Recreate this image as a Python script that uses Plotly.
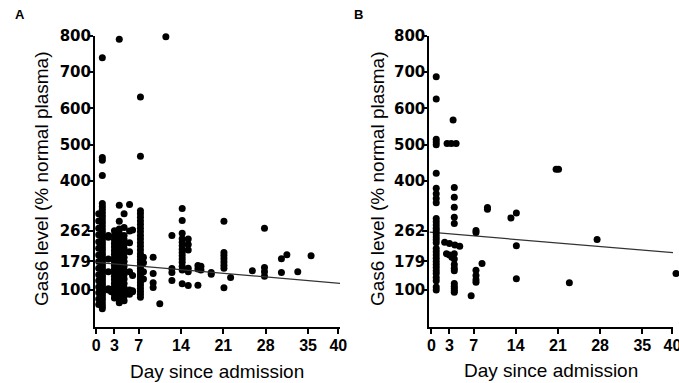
import plotly.graph_objects as go

# ---------------- Panel A data ----------------
days_a = (
    [1]*48 + [0.4]*15 + [2]*6 + [2.5]*2 + [3]*19 + [3.8]*22 + [4.6]*18 + [5.5]*8 + [6]*4
    + [7.3]*30 + [7.8]*4 + [9.4]*4 + [10.5] + [11.5] + [12.5]*4 + [14.2]*14 + [15.2]*6
    + [16.8]*3 + [17.3]*2 + [19]*2 + [21.1]*8 + [22.2] + [25.8] + [27.8]*4 + [30.6]*2
    + [31.5] + [33.3] + [35.5]
)
gas6_a = (
    [48, 55, 62, 70, 77, 84, 90, 96, 100, 104, 110, 116, 122, 128, 134, 140, 146, 152, 158, 164,
     170, 176, 182, 188, 194, 200, 207, 214, 221, 228, 235, 242, 250, 258, 266, 274, 282, 290,
     298, 306, 314, 322, 330, 338, 415, 457, 465, 739]
    + [60, 75, 92, 108, 125, 142, 160, 178, 196, 215, 233, 252, 270, 290, 310]
    + [100, 103, 150, 185, 245, 250]
    + [95, 101]
    + [78, 88, 98, 108, 118, 128, 138, 148, 158, 168, 178, 188, 198, 208, 218, 228, 238, 250, 263]
    + [65, 72, 80, 90, 100, 112, 124, 136, 148, 160, 172, 184, 196, 208, 220, 232, 244, 256, 268,
       289, 333, 790]
    + [70, 82, 94, 106, 118, 130, 142, 154, 166, 178, 190, 202, 214, 226, 238, 250, 272, 310]
    + [88, 95, 100, 150, 205, 230, 262, 335]
    + [95, 98, 140, 265]
    + [80, 88, 96, 104, 112, 120, 128, 136, 144, 152, 160, 168, 176, 184, 192, 200, 210, 220, 230,
       240, 250, 260, 270, 280, 290, 300, 310, 318, 468, 631]
    + [130, 150, 175, 190]
    + [190, 145, 120, 107]
    + [62]
    + [797]
    + [250, 159, 148, 126]
    + [324, 291, 256, 241, 231, 222, 212, 203, 194, 185, 176, 165, 155, 117]
    + [240, 225, 210, 160, 150, 112]
    + [167, 158, 113]
    + [165, 155]
    + [148, 143]
    + [289, 203, 195, 186, 177, 168, 160, 106]
    + [134]
    + [153]
    + [270, 162, 150, 138]
    + [186, 148]
    + [197]
    + [150]
    + [194]
)
line_a_days = [0, 40.3]
line_a_vals = [176, 118]

# ---------------- Panel B data ----------------
days_b = (
    [0.8]*32 + [2.6, 3.3, 4.1] + [3.6] + [3.8]*15 + [2.2, 3.0, 3.9, 4.7] + [2.5, 3.0, 3.4]
    + [6.6] + [7.4]*6 + [8.4] + [9.3]*2 + [13.2] + [14.1]*3 + [20.7, 21.1] + [22.9] + [27.5] + [40.6]
)
gas6_b = (
    [687, 626, 515, 507, 500, 421, 380, 365, 352, 340, 297, 288, 279, 270, 262, 254, 246, 238,
     230, 214, 205, 196, 187, 178, 170, 162, 153, 145, 134, 125, 108, 100]
    + [503, 503, 503]
    + [568]
    + [382, 355, 328, 300, 283, 200, 185, 170, 160, 153, 118, 110, 104, 98, 94]
    + [231, 228, 224, 220]
    + [200, 196, 190]
    + [84]
    + [264, 258, 154, 140, 128, 121]
    + [173]
    + [327, 322]
    + [298]
    + [312, 222, 131]
    + [432, 432]
    + [120]
    + [239]
    + [145]
)
line_b_days = [-0.3, 40.6]
line_b_vals = [259, 202]

x_ticks = [0, 3, 7, 14, 21, 28, 35, 40]
y_ticks = [100, 179, 262, 400, 500, 600, 700, 800]

W, H = 679, 383
# pixel geometry of the panels
ax_a = (95.0, 340.0)
ax_b = (429.3, 673.0)
xr_a = [-0.21, 40.28]
xr_b = [-0.35, 40.1]
# a hidden x axis for panel B with identical scale that reaches the right page edge
scale_b = (ax_b[1] - ax_b[0]) / (xr_b[1] - xr_b[0])
xr_b_wide = [xr_b[0], xr_b[0] + (W - ax_b[0]) / scale_b]

fig = go.Figure()

marker = dict(color="black", size=7, line=dict(width=0))
fig.add_trace(go.Scatter(x=days_a, y=gas6_a, mode="markers", marker=marker,
                         xaxis="x", yaxis="y", cliponaxis=False, showlegend=False))
fig.add_trace(go.Scatter(x=line_a_days, y=line_a_vals, mode="lines",
                         line=dict(color="#333333", width=1.2),
                         xaxis="x", yaxis="y", cliponaxis=False, showlegend=False))
fig.add_trace(go.Scatter(x=line_b_days, y=line_b_vals, mode="lines",
                         line=dict(color="#333333", width=1.2),
                         xaxis="x2", yaxis="y2", cliponaxis=False, showlegend=False))
fig.add_trace(go.Scatter(x=days_b, y=gas6_b, mode="markers", marker=marker,
                         xaxis="x3", yaxis="y2", cliponaxis=False, showlegend=False))

xtickfont = dict(family="Liberation Sans, Arial", size=16, color="black", weight="bold")
ytickfont = dict(family="DejaVu Sans", size=15, color="black", weight="bold")
common_x = dict(tickvals=x_ticks, ticktext=[str(t) for t in x_ticks], showline=True,
                linecolor="black", linewidth=2, ticks="outside", ticklen=5, tickwidth=2,
                tickcolor="black", showgrid=False, zeroline=False, tickfont=xtickfont,
                automargin=False, ticklabeloverflow="allow", ticklabelstandoff=-2)
common_y = dict(tickvals=y_ticks, ticktext=[str(t) for t in y_ticks], showline=True,
                linecolor="black", linewidth=2, ticks="outside", ticklen=5, tickwidth=2,
                tickcolor="black", showgrid=False, zeroline=False, tickfont=ytickfont,
                range=[-2, 800], automargin=False, ticklabeloverflow="allow",
                ticklabelstandoff=-6)

ydom = [1 - 327/H, 1 - 35.7/H]
fig.update_layout(
    template="none",
    width=W, height=H, margin=dict(l=0, r=0, t=0, b=0, pad=0),
    paper_bgcolor="white", plot_bgcolor="rgba(0,0,0,0)",
    xaxis=dict(domain=[ax_a[0]/W, ax_a[1]/W], range=xr_a, anchor="y", **common_x),
    yaxis=dict(domain=ydom, anchor="x", **common_y),
    xaxis2=dict(domain=[ax_b[0]/W, ax_b[1]/W], range=xr_b, anchor="y2", **common_x),
    yaxis2=dict(domain=ydom, anchor="x2", **common_y),
    xaxis3=dict(domain=[ax_b[0]/W, 1.0], range=xr_b_wide, anchor="y2",
                visible=False, showgrid=False, zeroline=False, automargin=False),
    hovermode=False,
)

title_font = dict(family="Liberation Sans, Arial", size=19, color="black")
ann = [
    dict(text="A", x=13/W, y=1 - 15/H, font=dict(family="Liberation Sans, Arial", size=13, color="black", weight="bold")),
    dict(text="B", x=352/W, y=1 - 15/H, font=dict(family="Liberation Sans, Arial", size=13, color="black", weight="bold")),
    dict(text="Day since admission", x=217/W, y=1 - 371/H, font=title_font),
    dict(text="Day since admission", x=551/W, y=1 - 370/H, font=title_font),
    dict(text="Gas6 level (% normal plasma)", x=41/W, y=1 - 179/H, textangle=-90, font=title_font),
    dict(text="Gas6 level (% normal plasma)", x=377/W, y=1 - 179/H, textangle=-90, font=title_font),
]
for a in ann:
    a.update(xref="paper", yref="paper", showarrow=False, xanchor="center", yanchor="middle")
    if a["text"] in ("A", "B"):
        a.update(xanchor="left")
fig.update_layout(annotations=ann)

fig.write_html(
    "out.html",
    config={"displayModeBar": False, "staticPlot": True},
    post_script="document.body.style.margin='0';document.body.style.padding='0';"
                "document.body.style.overflow='hidden';",
)
